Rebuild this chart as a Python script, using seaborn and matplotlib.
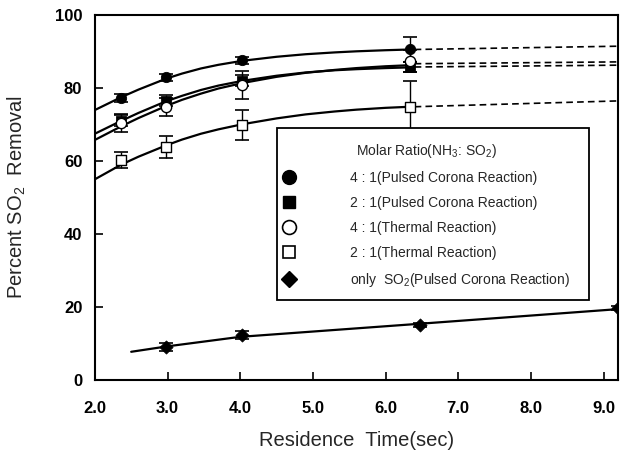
import matplotlib
matplotlib.use("Agg")
import matplotlib.pyplot as plt
import seaborn as sns
from matplotlib.lines import Line2D
from matplotlib.patches import Rectangle

# ---- data ----
pt_x = [2.36, 2.98, 4.03, 6.34]
p41_y = [77.3, 83.0, 87.6, 90.6]
p41_err = [1.0, 1.0, 1.0, 3.5]
p21_y = [71.0, 76.6, 82.0, 85.8]
p21_err = [1.5, 1.5, 1.5, 1.5]
t41_y = [70.5, 74.8, 80.8, 87.5]
t41_err = [2.5, 2.5, 3.8, 3.0]
t21_y = [60.3, 63.9, 69.9, 74.9]
t21_err = [2.2, 3.0, 4.0, 7.0]
so2_x = [2.98, 4.03, 6.48, 9.2]
so2_y = [9.0, 12.3, 15.1, 19.7]
so2_err = [1.0, 1.0, 0.5, 0.5]

fit_x = [2.0, 2.36, 2.6, 2.98, 3.2, 3.46, 3.7, 4.03, 4.5, 4.9, 5.3, 5.6, 6.0, 6.34]
fit_p41 = [74.0, 77.5, 79.6, 82.6, 84.0, 85.4, 86.4, 87.5, 88.6, 89.3, 89.8, 90.1, 90.4, 90.6]
fit_p21 = [67.5, 71.0, 73.2, 76.4, 77.9, 79.5, 80.7, 82.0, 83.4, 84.3, 84.9, 85.2, 85.5, 85.7]
fit_t41 = [65.8, 69.5, 71.8, 75.1, 76.8, 78.5, 79.9, 81.4, 83.1, 84.2, 85.0, 85.5, 86.0, 86.3]
fit_t21 = [55.0, 59.0, 61.2, 64.3, 65.9, 67.5, 68.7, 70.1, 71.7, 72.8, 73.6, 74.1, 74.6, 74.9]
ext_x = [6.4, 9.2]
ext_p41 = [90.6, 91.5]
ext_p21 = [85.8, 86.3]
ext_t41 = [86.7, 87.2]
ext_t21 = [74.9, 76.5]
fit_so2_x = [2.5, 3.0, 4.0, 5.24, 6.48, 9.2]
fit_so2_y = [7.7, 9.2, 11.8, 13.6, 15.4, 19.4]

xticks = [2.0, 3.0, 4.0, 5.0, 6.0, 7.0, 8.0, 9.0]
yticks = [0, 20, 40, 60, 80, 100]

legend_title = "Molar Ratio(NH$_3$: SO$_2$)"
labels = ["4 : 1(Pulsed Corona Reaction)", "2 : 1(Pulsed Corona Reaction)",
          "4 : 1(Thermal Reaction)", "2 : 1(Thermal Reaction)",
          "only  SO$_2$(Pulsed Corona Reaction)"]

sns.set_theme(style="ticks")
plt.rcParams['font.family'] = ['Liberation Sans', 'DejaVu Sans']
plt.rcParams['mathtext.fontset'] = 'custom'
plt.rcParams['mathtext.rm'] = 'Liberation Sans'
plt.rcParams['mathtext.it'] = 'Liberation Sans'

fig = plt.figure(figsize=(6.2, 4.61), dpi=100)
ax = fig.add_axes([0.153, 0.176, 0.844, 0.791])

lw = 1.6
for fy in [fit_p41, fit_p21, fit_t41, fit_t21]:
    sns.lineplot(x=fit_x, y=fy, ax=ax, color="black", lw=lw, estimator=None, sort=False)
for ey in [ext_p41, ext_p21, ext_t41, ext_t21]:
    sns.lineplot(x=ext_x, y=ey, ax=ax, color="black", lw=1.2, estimator=None,
                 sort=False, linestyle=(0, (4, 2.5)))
sns.lineplot(x=fit_so2_x, y=fit_so2_y, ax=ax, color="black", lw=lw, estimator=None, sort=False)

ekw = dict(fmt="none", ecolor="black", elinewidth=1.0, capsize=5, capthick=1.2, zorder=3)
for yy, ee in [(p41_y, p41_err), (p21_y, p21_err), (t41_y, t41_err), (t21_y, t21_err)]:
    ax.errorbar(pt_x, yy, yerr=ee, **ekw)
ax.errorbar(so2_x, so2_y, yerr=so2_err, **ekw)

sns.scatterplot(x=pt_x, y=p41_y, ax=ax, marker="o", s=55, color="black", edgecolor="black", zorder=4)
sns.scatterplot(x=pt_x, y=p21_y, ax=ax, marker="s", s=50, color="black", edgecolor="black", zorder=4)
sns.scatterplot(x=pt_x, y=t41_y, ax=ax, marker="o", s=55, facecolor="white", edgecolor="black", linewidth=1.0, zorder=4)
sns.scatterplot(x=pt_x, y=t21_y, ax=ax, marker="s", s=50, facecolor="white", edgecolor="black", linewidth=1.0, zorder=4)
sns.scatterplot(x=so2_x, y=so2_y, ax=ax, marker="D", s=45, color="black", edgecolor="black", zorder=4)

ax.set_xlim(2.0, 9.2)
ax.set_ylim(0, 100)
ax.set_xticks(xticks)
ax.set_xticklabels([f"{v:.1f}" for v in xticks], fontweight="bold", fontsize=12)
ax.set_yticks(yticks)
ax.set_yticklabels([str(v) for v in yticks], fontweight="bold", fontsize=12)
ax.tick_params(direction="in", length=6, width=1.2, colors="black")
ax.tick_params(axis="x", pad=15)
ax.tick_params(axis="y", pad=9)
for s in ax.spines.values():
    s.set_visible(True)
    s.set_linewidth(1.5)
    s.set_color("black")

ax.set_xlabel("Residence  Time(sec)", fontsize=14.5, labelpad=11)
ax.set_ylabel("Percent SO$_2$  Removal", fontsize=14.5, labelpad=19)

# legend box (opaque, drawn over the lines)
ax.add_patch(Rectangle((0.348, 0.219), 0.597, 0.471, transform=ax.transAxes,
                       facecolor="white", edgecolor="black", lw=1.3, zorder=9))

handles = [
    Line2D([], [], ls="none", marker="o", ms=10, mfc="black", mec="black"),
    Line2D([], [], ls="none", marker="s", ms=9, mfc="black", mec="black"),
    Line2D([], [], ls="none", marker="o", ms=10, mfc="white", mec="black", mew=1.2),
    Line2D([], [], ls="none", marker="s", ms=9, mfc="white", mec="black", mew=1.2),
    Line2D([], [], ls="none", marker="D", ms=8, mfc="black", mec="black"),
]
leg = ax.legend(handles, labels, title=legend_title,
                loc="upper left", bbox_to_anchor=(0.350, 0.665),
                fontsize=10, title_fontsize=10, frameon=False,
                borderaxespad=0, borderpad=0.3,
                handlelength=1.0, handletextpad=3.9, labelspacing=0.8)
leg.set_zorder(10)

fig.savefig("out.png", dpi=100)
